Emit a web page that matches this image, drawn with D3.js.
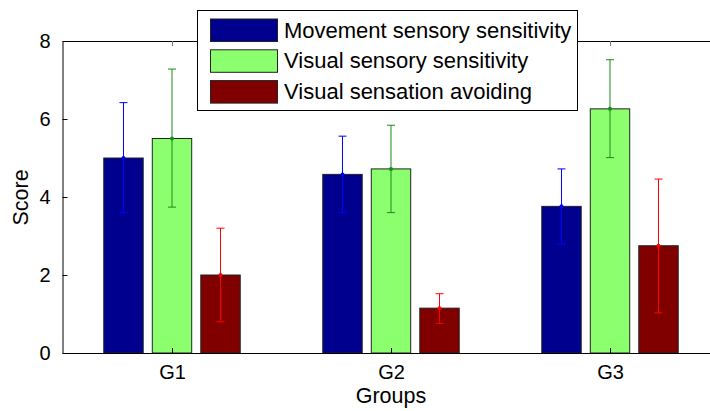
<!DOCTYPE html>
<html><head><meta charset="utf-8">
<script src="https://cdn.jsdelivr.net/npm/d3@7"></script>
<style>body{margin:0;background:#fff}svg{display:block}text{font-family:"Liberation Sans",Arial,sans-serif}</style>
</head><body>
<script>
const groups = ["G1","G2","G3"];
const seriesNames = ["Movement sensory sensitivity","Visual sensory sensitivity","Visual sensation avoiding"];
const movementMean = [5.0, 4.58, 3.76];
const movementErrLow = [3.6, 3.6, 2.79];
const movementErrHigh = [6.42, 5.56, 4.72];
const visualMean = [5.5, 4.72, 6.26];
const visualErrLow = [3.74, 3.6, 5.01];
const visualErrHigh = [7.28, 5.84, 7.52];
const avoidMean = [2.0, 1.15, 2.75];
const avoidErrLow = [0.8, 0.76, 1.03];
const avoidErrHigh = [3.2, 1.52, 4.46];
const yTicks = [0,2,4,6,8];

const fills = ["#00008f","#8cff6e","#800000"];
const errColors = ["#0000ff","#1a8c1a","#ff0000"];
const series = [
  {mean: movementMean, lo: movementErrLow, hi: movementErrHigh},
  {mean: visualMean, lo: visualErrLow, hi: visualErrHigh},
  {mean: avoidMean, lo: avoidErrLow, hi: avoidErrHigh}
];

const W = 710, H = 411;
const svg = d3.select("body").append("svg").attr("width", W).attr("height", H);
const x = d3.scaleLinear().domain([0.5, 3.5]).range([62.5, 719.5]);
const y = d3.scaleLinear().domain([0, 8]).range([353, 41]);
const offset = 0.2215, bw = 0.18;

const g = svg.append("g");
series.forEach((s, si) => {
  g.selectAll(null).data(groups).enter().append("rect")
    .attr("x", (d,i) => x(i + 1 + (si-1)*offset - bw/2))
    .attr("width", x(bw) - x(0))
    .attr("y", (d,i) => y(s.mean[i]))
    .attr("height", (d,i) => y(0) - y(s.mean[i]))
    .attr("fill", fills[si]).attr("stroke", "#222").attr("stroke-width", 1);
});
series.forEach((s, si) => {
  groups.forEach((d, i) => {
    const cx = x(i + 1 + (si-1)*offset);
    const c = errColors[si];
    g.append("line").attr("x1", cx).attr("x2", cx).attr("y1", y(s.lo[i])).attr("y2", y(s.hi[i])).attr("stroke", c).attr("stroke-width", 1);
    [s.lo[i], s.hi[i]].forEach(v => {
      g.append("line").attr("x1", cx-4).attr("x2", cx+4).attr("y1", y(v)).attr("y2", y(v)).attr("stroke", c).attr("stroke-width", 1);
    });
    g.append("circle").attr("cx", cx).attr("cy", y(s.mean[i])).attr("r", 2).attr("fill", c);
  });
});

const yAxis = d3.axisLeft(y).tickValues(yTicks).tickSizeInner(-5).tickSizeOuter(0).tickPadding(12);
const ya = svg.append("g").attr("transform", "translate(62.5,0)").call(yAxis);
ya.select(".domain").attr("stroke", "#000");
ya.selectAll("text").attr("font-size", 20).attr("fill", "#000").attr("font-family", "Liberation Sans, Arial, sans-serif");
const xAxis = d3.axisBottom(x).tickValues([1,2,3]).tickFormat((d,i) => groups[i]).tickSizeInner(-5).tickSizeOuter(0).tickPadding(12);
const xa = svg.append("g").attr("transform", "translate(0,353)").call(xAxis);
xa.selectAll("text").attr("font-size", 20).attr("fill", "#000").attr("font-family", "Liberation Sans, Arial, sans-serif");
xa.selectAll(".tick line").attr("stroke", "#000");
const xTop = d3.axisTop(x).tickValues([1,2,3]).tickFormat("").tickSizeInner(-5).tickSizeOuter(0);
const xt = svg.append("g").attr("transform", "translate(0,41)").call(xTop);
xt.selectAll(".tick line").attr("stroke", "#777");

svg.append("text").attr("x", x(2)).attr("y", 403).attr("text-anchor", "middle").attr("font-size", 21.5).text("Groups");
svg.append("text").attr("transform", "translate(28,197.5) rotate(-90)").attr("text-anchor", "middle").attr("font-size", 21.5).text("Score");

const lg = svg.append("g");
lg.append("rect").attr("x", 197.5).attr("y", 10.5).attr("width", 380).attr("height", 100).attr("fill", "#fff").attr("stroke", "#000").attr("stroke-width", 1);
seriesNames.forEach((n, i) => {
  const yy = 19 + i*30.8;
  lg.append("rect").attr("x", 210.5).attr("y", yy).attr("width", 67).attr("height", 22.5).attr("fill", fills[i]).attr("stroke", "#222");
  lg.append("text").attr("x", 284).attr("y", yy + 18.5).attr("font-size", 22).text(n);
});
</script>
</body></html>
